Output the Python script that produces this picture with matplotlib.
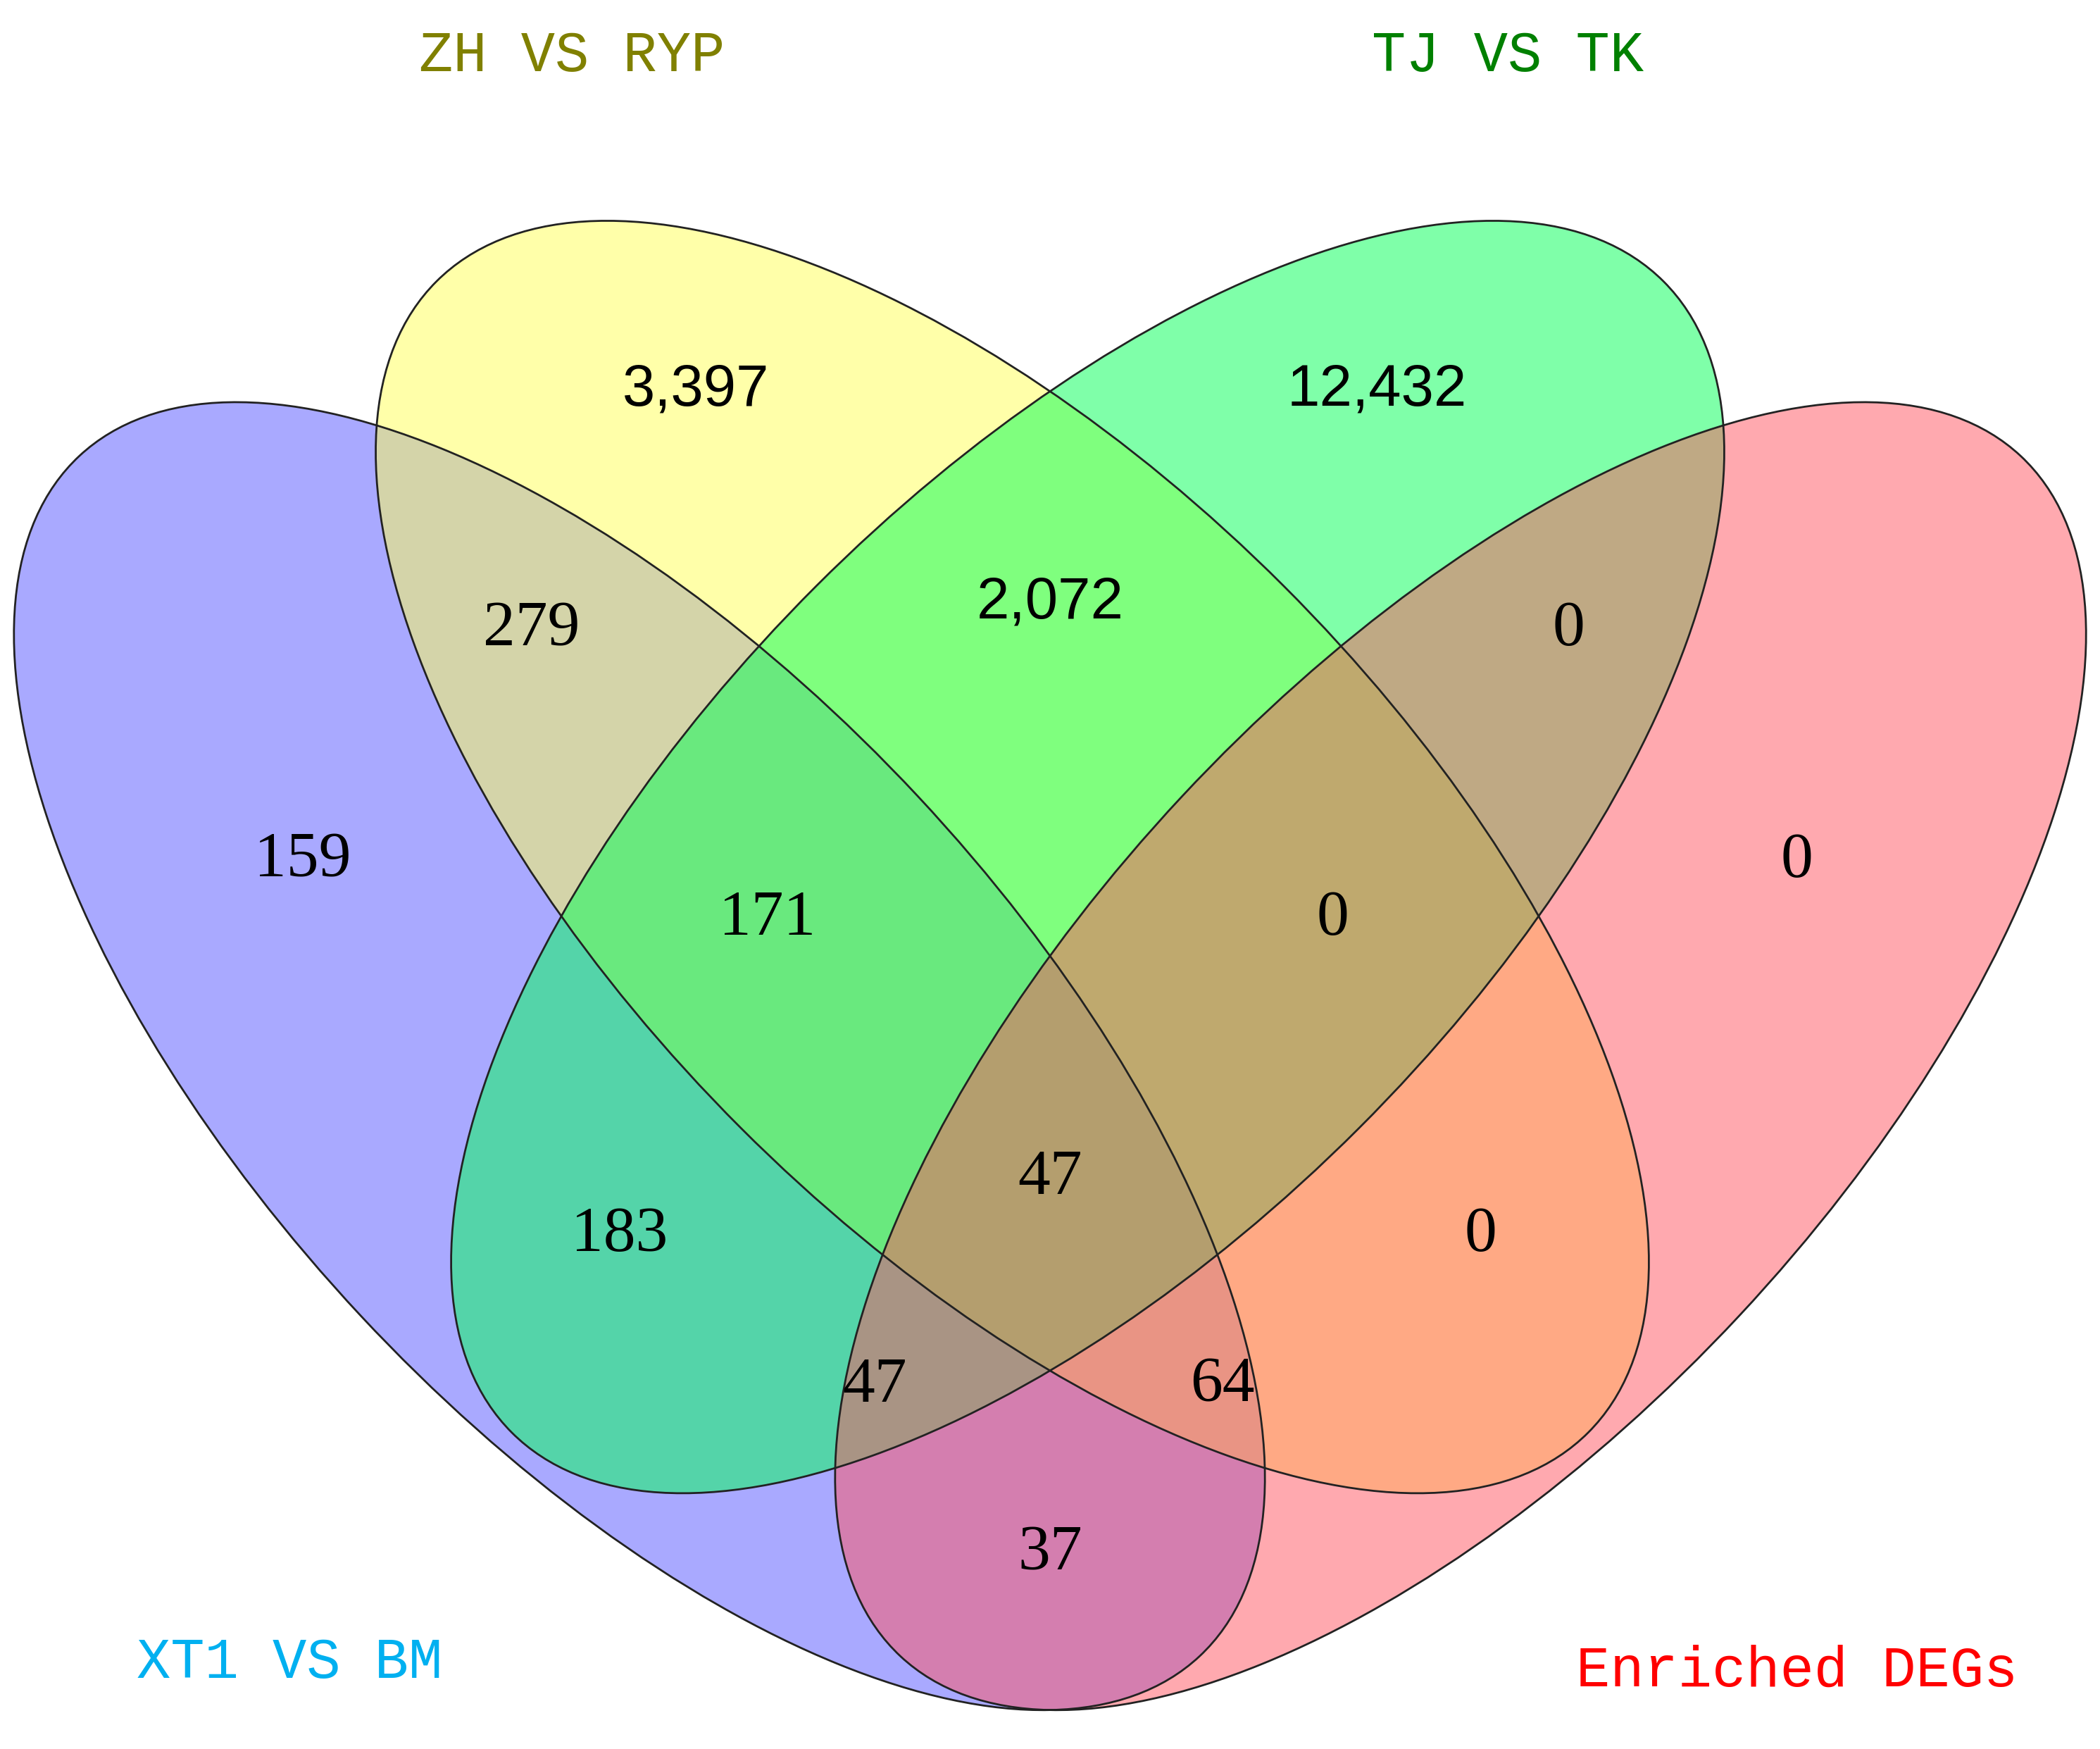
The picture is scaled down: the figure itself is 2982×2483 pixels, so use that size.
import matplotlib
matplotlib.use('Agg')
import matplotlib.pyplot as plt
from matplotlib.patches import Ellipse

# set names and region counts
set_names = ['XT1 VS BM', 'ZH VS RYP', 'TJ VS TK', 'Enriched DEGs']
set_colors = ['#00b0f0', '#808000', '#008000', '#ff0000']
fill_colors = ['#5555ff', '#ffff55', '#00ff55', '#ff5560']

region_counts = ['159', '3,397', '12,432', '0',
                 '279', '2,072', '0', '171', '0', '183', '0',
                 '47', '47', '64', '37']
region_sans = [False, True, True, False,
               False, True, False, False, False, False, False,
               False, False, False, False]

# layout (image pixel coords of the 1560x1300 reference frame)
ellipses = [((475, 785), 610, 283, 47),
            ((752, 637), 605, 285, 45),
            ((808, 637), 605, 285, -45),
            ((1085, 785), 610, 283, -47)]
label_pos = [(225, 640), (517, 290), (1023, 290), (1335, 640),
             (395, 468), (780, 448), (1165, 468), (570, 683), (990, 683),
             (460, 918), (1100, 918),
             (780, 876), (650, 1030), (908, 1030), (780, 1155)]
name_pos = [(215, 1236), (425, 42), (1120, 42), (1335, 1242)]

fig = plt.figure(figsize=(29.82, 24.83), dpi=100)
ax = fig.add_axes([0, 0, 1, 1])
ax.set_xlim(0, 1560)
ax.set_ylim(1300, 0)
ax.axis('off')

for (c, a, b, ang), col in zip(ellipses, fill_colors):
    ax.add_patch(Ellipse(c, 2 * a, 2 * b, angle=ang, facecolor=col,
                         alpha=0.5, edgecolor='none'))
for (c, a, b, ang) in ellipses:
    ax.add_patch(Ellipse(c, 2 * a, 2 * b, angle=ang, facecolor='none',
                         edgecolor='#222222', lw=2))

for txt, (x, y), sans in zip(region_counts, label_pos, region_sans):
    ax.text(x, y, txt, ha='center', va='center',
            family='Liberation Sans' if sans else 'Liberation Serif',
            fontsize=60 if sans else 66, color='black')

for name, (x, y), col in zip(set_names, name_pos, set_colors):
    ax.text(x, y, name, ha='center', va='center', family='Liberation Mono',
            fontsize=58, color=col)

fig.savefig('out.png', dpi=100)
